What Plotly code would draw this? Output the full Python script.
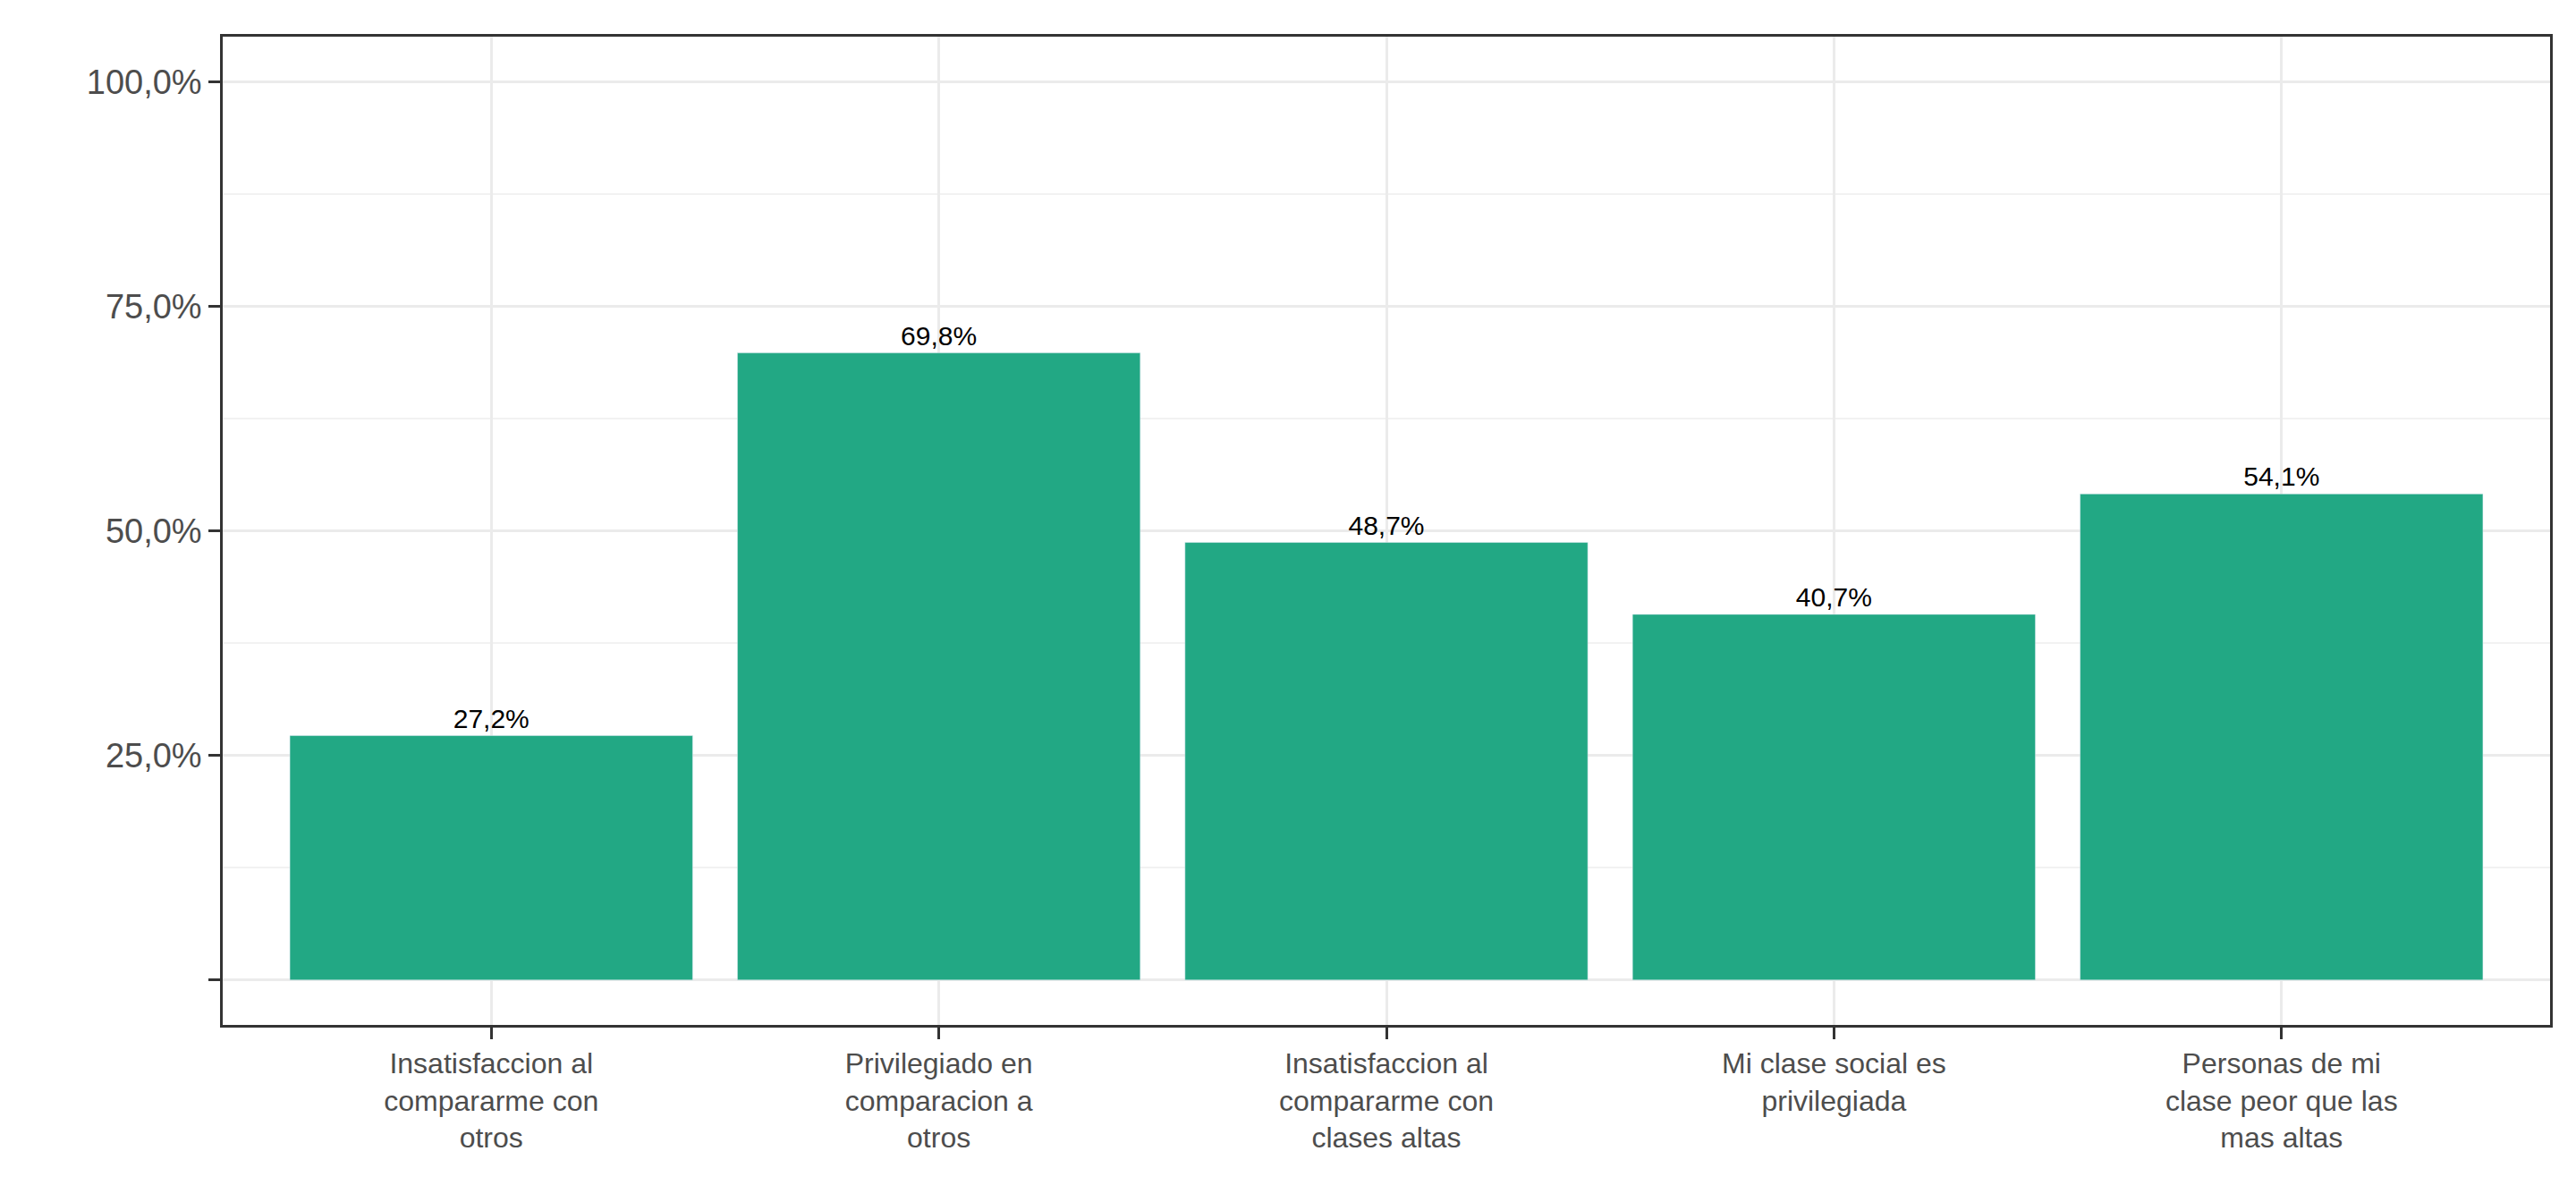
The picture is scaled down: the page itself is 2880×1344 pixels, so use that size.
import plotly.graph_objects as go

categories = [
    "Insatisfaccion al<br>compararme con<br>otros",
    "Privilegiado en<br>comparacion a<br>otros",
    "Insatisfaccion al<br>compararme con<br>clases altas",
    "Mi clase social es<br>privilegiada",
    "Personas de mi<br>clase peor que las<br>mas altas",
]
values = [0.272, 0.698, 0.487, 0.407, 0.541]
labels = ["27,2%", "69,8%", "48,7%", "40,7%", "54,1%"]
y_ticks = [0, 0.25, 0.5, 0.75, 1.0]
y_ticktext = ["", "25,0%", "50,0%", "75,0%", "100,0%"]

fig = go.Figure(go.Bar(
    x=categories, y=values, text=labels, textposition="outside",
    textfont=dict(size=30, color="black"), marker_color="#22A884",
    width=0.9, cliponaxis=False,
))

fig.update_layout(
    width=2880, height=1344, plot_bgcolor="white", paper_bgcolor="white",
    margin=dict(l=241, r=37, t=33, b=206),
    font=dict(family="Liberation Sans, Arial", color="#4D4D4D"),
    showlegend=False, bargap=0.1,
)
fig.update_xaxes(
    showline=True, linecolor="#333333", linewidth=2.5, mirror=True,
    showgrid=True, gridcolor="#EBEBEB", gridwidth=3,
    ticks="outside", ticklen=13, tickwidth=2.5, tickcolor="#333333",
    tickfont=dict(size=32, color="#4D4D4D"), range=[-0.6, 4.6],
)
fig.update_yaxes(
    range=[-0.05, 1.05], tickvals=y_ticks, ticktext=y_ticktext,
    showline=True, linecolor="#333333", linewidth=2.5, mirror=True,
    showgrid=True, gridcolor="#EBEBEB", gridwidth=3, zeroline=False,
    ticks="outside", ticklen=13, tickwidth=2.5, tickcolor="#333333",
    tickfont=dict(size=38, color="#4D4D4D"),
    minor=dict(tickvals=[0.125, 0.375, 0.625, 0.875], showgrid=True,
               gridcolor="#F2F2F2", gridwidth=1.5, ticks=""),
)

fig.write_html("out.html")
